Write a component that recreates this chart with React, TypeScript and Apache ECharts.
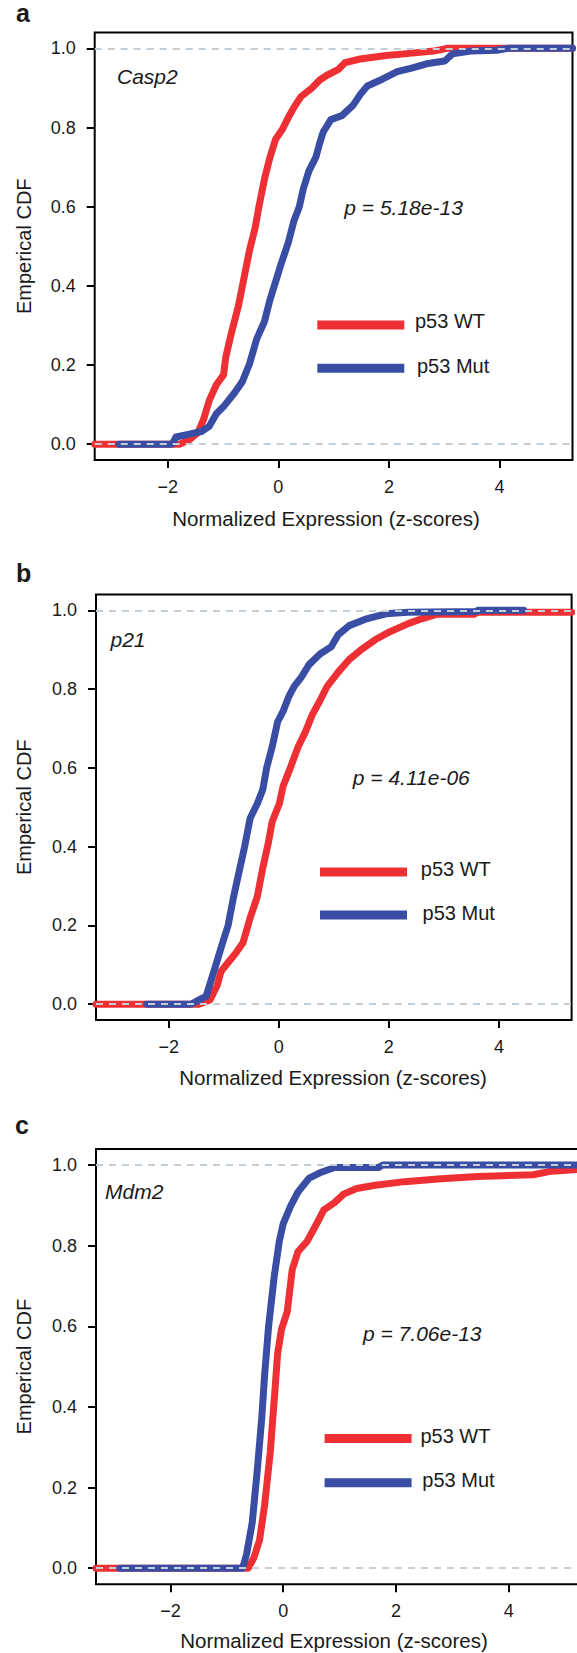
import React, { useEffect, useRef } from 'react';
import * as echarts from 'echarts';

// ---------- data ----------
const SERIES_NAMES = ['p53 WT', 'p53 Mut'];
const PANEL_LETTERS = ['a', 'b', 'c'];
const GENES = ['Casp2', 'p21', 'Mdm2'];
const P_VALUES = ['p = 5.18e-13', 'p = 4.11e-06', 'p = 7.06e-13'];
const X_TICKS = [-2, 0, 2, 4];
const Y_TICKS = [0, 0.2, 0.4, 0.6, 0.8, 1.0];
const X_LIMITS = [-3.32, 5.32];
const Y_LIMITS = [-0.04, 1.04];
const REF_LINES = [0, 1];
const X_TITLE = 'Normalized Expression (z-scores)';
const Y_TITLE = 'Emperical CDF';

const CASP2_WT = [
  [-3.32, 0], [-1.79, 0], [-1.62, 0.01], [-1.45, 0.03], [-1.35, 0.063], [-1.25, 0.11], [-1.12, 0.15],
  [-0.99, 0.175], [-0.95, 0.22], [-0.85, 0.28], [-0.72, 0.35], [-0.62, 0.42], [-0.52, 0.49], [-0.42, 0.546],
  [-0.35, 0.6], [-0.25, 0.67], [-0.15, 0.725], [-0.05, 0.77], [0.08, 0.797], [0.21, 0.833], [0.28, 0.85],
  [0.41, 0.878], [0.61, 0.9], [0.75, 0.92], [0.88, 0.932], [1.08, 0.946], [1.21, 0.964], [1.48, 0.973],
  [1.95, 0.982], [2.28, 0.986], [2.81, 0.993], [3.05, 1.0], [5.32, 1.0],
];
const CASP2_MUT = [
  [-2.88, 0], [-1.92, 0], [-1.85, 0.018], [-1.65, 0.024], [-1.39, 0.032], [-1.25, 0.045], [-1.12, 0.077],
  [-0.99, 0.095], [-0.79, 0.13], [-0.65, 0.158], [-0.52, 0.203], [-0.39, 0.266], [-0.25, 0.31], [-0.15, 0.365],
  [-0.05, 0.41], [0.05, 0.455], [0.18, 0.509], [0.28, 0.563], [0.38, 0.6], [0.45, 0.644], [0.55, 0.689],
  [0.68, 0.725], [0.75, 0.761], [0.81, 0.788], [0.95, 0.82], [1.15, 0.83], [1.35, 0.856], [1.48, 0.883],
  [1.61, 0.905], [1.88, 0.922], [2.15, 0.941], [2.41, 0.95], [2.68, 0.961], [3.01, 0.968], [3.15, 0.986],
  [3.48, 0.993], [3.95, 0.995], [4.15, 1.0], [5.32, 1.0],
];
const P21_WT = [
  [-3.32, 0], [-1.45, 0], [-1.25, 0.011], [-1.12, 0.047], [-1.05, 0.083], [-0.92, 0.106], [-0.79, 0.128],
  [-0.65, 0.156], [-0.52, 0.219], [-0.39, 0.273], [-0.29, 0.346], [-0.19, 0.409], [-0.12, 0.463], [0.01, 0.509],
  [0.08, 0.554], [0.21, 0.6], [0.35, 0.653], [0.48, 0.69], [0.61, 0.735], [0.75, 0.771], [0.88, 0.807],
  [1.08, 0.843], [1.28, 0.875], [1.48, 0.898], [1.75, 0.925], [2.01, 0.945], [2.35, 0.966], [2.61, 0.979],
  [2.88, 0.99], [3.55, 0.99], [3.61, 0.995], [5.32, 0.995],
];
const P21_MUT = [
  [-2.39, 0], [-1.59, 0], [-1.45, 0.011], [-1.32, 0.02], [-1.22, 0.065], [-1.12, 0.11], [-1.02, 0.156],
  [-0.92, 0.2], [-0.82, 0.273], [-0.72, 0.337], [-0.62, 0.4], [-0.52, 0.472], [-0.39, 0.509], [-0.29, 0.545],
  [-0.22, 0.6], [-0.12, 0.653], [-0.02, 0.717], [0.08, 0.744], [0.18, 0.78], [0.28, 0.807], [0.41, 0.83],
  [0.55, 0.862], [0.75, 0.889], [0.95, 0.907], [1.08, 0.938], [1.28, 0.961], [1.61, 0.979], [1.95, 0.991],
  [2.35, 0.995], [3.6, 0.997], [3.62, 1.0], [4.45, 1.0],
];
const MDM2_WT = [
  [-3.32, 0], [-0.62, 0], [-0.52, 0.026], [-0.42, 0.07], [-0.33, 0.157], [-0.23, 0.288], [-0.16, 0.418],
  [-0.1, 0.532], [-0.03, 0.593], [0.07, 0.636], [0.16, 0.741], [0.26, 0.785], [0.42, 0.81], [0.59, 0.854],
  [0.72, 0.889], [0.91, 0.907], [1.07, 0.928], [1.3, 0.942], [1.63, 0.95], [2.15, 0.959], [2.8, 0.966],
  [3.45, 0.972], [4.43, 0.976], [4.76, 0.985], [5.32, 0.99],
];
const MDM2_MUT = [
  [-2.9, 0], [-0.72, 0], [-0.65, 0.035], [-0.55, 0.113], [-0.46, 0.244], [-0.38, 0.375], [-0.33, 0.48],
  [-0.26, 0.6], [-0.16, 0.724], [-0.07, 0.811], [0, 0.855], [0.13, 0.898], [0.26, 0.933], [0.46, 0.968],
  [0.65, 0.981], [0.91, 0.994], [1.69, 0.994], [1.76, 1.0], [5.32, 1.0],
];
const PANEL_DATA = [
  [CASP2_WT, CASP2_MUT],
  [P21_WT, P21_MUT],
  [MDM2_WT, MDM2_MUT],
];

// ---------- layout & style ----------
const FONT = "'Liberation Sans', Arial, Helvetica, sans-serif";
const COLORS = ['#EE2F33', '#3A4DA4'];
const REF_COLOR = '#C3CED6';
const TEXT_COLOR = '#1a1a1a';

const LAYOUT = [
  {
    grid: { left: 94.7, top: 32.5, width: 477.8, height: 427.5 },
    letter: [16, 13], gene: [117, 76.7], p: [344.3, 207.5],
    legRectX: 317.3, legRectY: [325, 368.3], legTextX: [415, 417], legTextY: [321, 366],
    xTitle: [326, 518], yTitleX: 24,
  },
  {
    grid: { left: 96, top: 594.5, width: 475.6, height: 425.5 },
    letter: [16, 573], gene: [110.5, 639], p: [352.8, 777.5],
    legRectX: 320, legRectY: [872, 915], legTextX: [420.8, 422.6], legTextY: [869, 913],
    xTitle: [333, 1077.7], yTitleX: 24,
  },
  {
    grid: { left: 96, top: 1149, width: 487.3, height: 435.3 },
    letter: [15, 1125], gene: [105, 1191], p: [363, 1333.5],
    legRectX: 324.6, legRectY: [1438.6, 1482.7], legTextX: [420.4, 422.3], legTextY: [1436, 1480],
    xTitle: [334, 1640], yTitleX: 24,
  },
];
const LEG_W = 87;
const LEG_H = 9;

function txt(text: string, x: number, y: number, size: number, extra: any = {}) {
  return {
    type: 'text',
    x,
    y,
    rotation: extra.rotation || 0,
    silent: true,
    style: {
      text,
      fill: TEXT_COLOR,
      fontSize: size,
      fontFamily: FONT,
      fontStyle: extra.italic ? 'italic' : 'normal',
      fontWeight: extra.bold ? 'bold' : 'normal',
      align: extra.align || 'left',
      verticalAlign: 'middle',
      textAlign: extra.align || 'left',
      textVerticalAlign: 'middle',
    },
  };
}

function buildOption() {
  const grids: any[] = [];
  const xAxes: any[] = [];
  const yAxes: any[] = [];
  const series: any[] = [];
  const graphics: any[] = [];

  LAYOUT.forEach((L, i) => {
    grids.push({
      ...L.grid,
      show: true,
      borderColor: '#000',
      borderWidth: 2,
      backgroundColor: 'transparent',
      containLabel: false,
      outerBoundsMode: 'none',
    });
    xAxes.push({
      type: 'value',
      gridIndex: i,
      min: X_LIMITS[0],
      max: X_LIMITS[1],
      axisLine: { show: false, onZero: false },
      splitLine: { show: false },
      axisTick: {
        show: true, inside: false, length: 8,
        lineStyle: { color: '#000', width: 2 },
        customValues: X_TICKS,
      },
      axisLabel: {
        show: true, margin: 18, fontSize: 18, fontFamily: FONT, color: TEXT_COLOR,
        customValues: X_TICKS,
        formatter: (v: number) => (v < 0 ? '\u2212' + Math.abs(v) : String(v)),
      },
    });
    yAxes.push({
      type: 'value',
      gridIndex: i,
      min: Y_LIMITS[0],
      max: Y_LIMITS[1],
      axisLine: { show: false, onZero: false },
      splitLine: { show: false },
      axisTick: {
        show: true, inside: false, length: 8,
        lineStyle: { color: '#000', width: 2 },
        customValues: Y_TICKS,
      },
      axisLabel: {
        show: true, margin: 19, fontSize: 18, fontFamily: FONT, color: TEXT_COLOR,
        customValues: Y_TICKS,
        formatter: (v: number) => v.toFixed(1),
      },
    });

    PANEL_DATA[i].forEach((d, k) => {
      series.push({
        type: 'line',
        name: SERIES_NAMES[k],
        xAxisIndex: i,
        yAxisIndex: i,
        data: d,
        showSymbol: false,
        symbol: 'none',
        color: COLORS[k],
        lineStyle: { color: COLORS[k], width: 7, cap: 'round', join: 'round' },
        z: 2 + k,
        silent: true,
      });
    });
    series.push({
      type: 'line',
      name: 'ref' + i,
      xAxisIndex: i,
      yAxisIndex: i,
      data: [],
      z: 10,
      silent: true,
      markLine: {
        silent: true,
        symbol: ['none', 'none'],
        label: { show: false },
        lineStyle: { color: REF_COLOR, width: 2, type: [7, 6] },
        emphasis: { disabled: true },
        data: REF_LINES.map((v) => ({ yAxis: v })),
      },
    });

    const g = L.grid;
    graphics.push(txt(PANEL_LETTERS[i], L.letter[0], L.letter[1], 25, { bold: true }));
    graphics.push(txt(GENES[i], L.gene[0], L.gene[1], 21, { italic: true }));
    graphics.push(txt(P_VALUES[i], L.p[0], L.p[1], 21, { italic: true }));
    graphics.push(txt(X_TITLE, L.xTitle[0], L.xTitle[1], 20.5, { align: 'center' }));
    graphics.push(
      txt(Y_TITLE, L.yTitleX, g.top + g.height / 2, 20, { align: 'center', rotation: Math.PI / 2 })
    );
    SERIES_NAMES.forEach((name, k) => {
      graphics.push({
        type: 'rect',
        silent: true,
        shape: { x: L.legRectX, y: L.legRectY[k] - LEG_H / 2, width: LEG_W, height: LEG_H },
        style: { fill: COLORS[k] },
      });
      graphics.push(txt(name, L.legTextX[k], L.legTextY[k], 20));
    });
  });

  return {
    animation: false,
    backgroundColor: '#ffffff',
    grid: grids,
    xAxis: xAxes,
    yAxis: yAxes,
    series,
    graphic: { elements: graphics },
  };
}

export default function App() {
  const ref = useRef<HTMLDivElement>(null);
  useEffect(() => {
    document.body.style.margin = '0';
    if (!ref.current) return;
    const chart = echarts.init(ref.current, undefined, { renderer: 'svg' });
    chart.setOption(buildOption() as any);
    return () => {
      chart.dispose();
    };
  }, []);
  return <div ref={ref} style={{ width: 577, height: 1653 }} />;
}
